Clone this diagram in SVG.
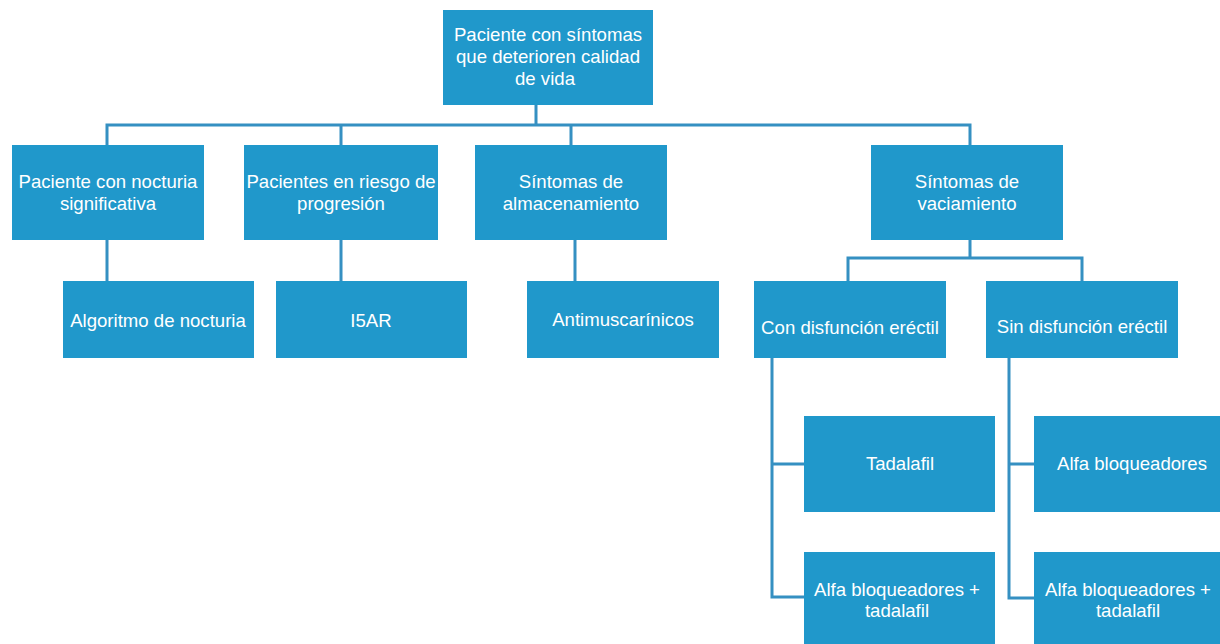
<svg xmlns="http://www.w3.org/2000/svg" width="1220" height="644" viewBox="0 0 1220 644">
<style>
.box{fill:#2098CB;}
.t{font-family:"Liberation Sans",Arial,sans-serif;font-size:18.6px;fill:#ffffff;text-anchor:middle;}
.c{fill:none;stroke:#3590C2;stroke-width:3;}
</style>
<rect width="1220" height="644" fill="#ffffff"/>
<g id="connectors">
<path class="c" d="M536 105V125M107 145V125H970V145M341 125V145M571 125V145"/>
<path class="c" d="M107 240V281M341 240V281M575 240V281"/>
<path class="c" d="M970 240V258M848 281V258H1082V281"/>
<path class="c" d="M772 358V597H804M772 464H804"/>
<path class="c" d="M1009 358V598H1034M1009 464H1034"/>
</g>
<g id="root"><rect class="box" x="443" y="10" width="210" height="95"/>
<text class="t" x="548" y="41">Paciente con síntomas</text>
<text class="t" x="548" y="63">que deterioren calidad</text>
<text class="t" x="545" y="85">de vida</text></g>
<g id="n1"><rect class="box" x="12" y="145" width="192" height="95"/>
<text class="t" x="108" y="188">Paciente con nocturia</text>
<text class="t" x="108" y="210">significativa</text></g>
<g id="n2"><rect class="box" x="244" y="145" width="194" height="95"/>
<text class="t" x="341" y="188">Pacientes en riesgo de</text>
<text class="t" x="341" y="210">progresión</text></g>
<g id="n3"><rect class="box" x="475" y="145" width="192" height="95"/>
<text class="t" x="571" y="188">Síntomas de</text>
<text class="t" x="571" y="210">almacenamiento</text></g>
<g id="n4"><rect class="box" x="871" y="145" width="192" height="95"/>
<text class="t" x="967" y="188">Síntomas de</text>
<text class="t" x="967" y="210">vaciamiento</text></g>
<g id="n5"><rect class="box" x="63" y="281" width="191" height="77"/>
<text class="t" x="158" y="327">Algoritmo de nocturia</text></g>
<g id="n6"><rect class="box" x="276" y="281" width="191" height="77"/>
<text class="t" x="371" y="327">I5AR</text></g>
<g id="n7"><rect class="box" x="527" y="281" width="192" height="77"/>
<text class="t" x="623" y="326">Antimuscarínicos</text></g>
<g id="n8"><rect class="box" x="754" y="281" width="192" height="77"/>
<text class="t" x="850" y="334">Con disfunción eréctil</text></g>
<g id="n9"><rect class="box" x="986" y="281" width="192" height="77"/>
<text class="t" x="1082" y="333">Sin disfunción eréctil</text></g>
<g id="n10"><rect class="box" x="804" y="416" width="191" height="96"/>
<text class="t" x="900" y="470">Tadalafil</text></g>
<g id="n11"><rect class="box" x="804" y="552" width="191" height="96"/>
<text class="t" x="897" y="596">Alfa bloqueadores +</text>
<text class="t" x="897" y="617">tadalafil</text></g>
<g id="n12"><rect class="box" x="1034" y="416" width="190" height="96"/>
<text class="t" x="1132" y="470">Alfa bloqueadores</text></g>
<g id="n13"><rect class="box" x="1034" y="552" width="190" height="96"/>
<text class="t" x="1128" y="596">Alfa bloqueadores +</text>
<text class="t" x="1128" y="617">tadalafil</text></g>
</svg>
